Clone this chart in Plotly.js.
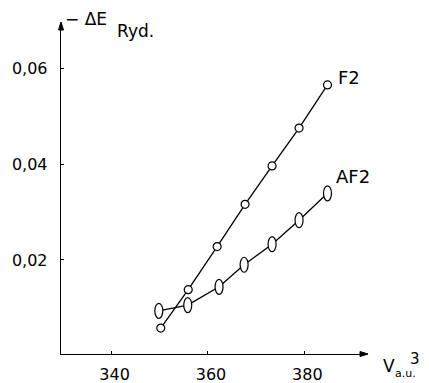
<!DOCTYPE html>
<html><head><meta charset="utf-8">
<script src="https://cdn.plot.ly/plotly-3.0.1.min.js"></script>
<style>html,body{margin:0;padding:0;background:#fff}</style>
</head><body><div id="chart" style="width:429px;height:383px"></div>
<script>
const f2X = [350.2, 355.9, 361.9, 367.7, 373.3, 378.9, 384.8];
const f2Y = [0.0058, 0.0138, 0.0228, 0.0316, 0.0396, 0.0475, 0.0565];
const af2X = [349.8, 355.8, 362.3, 367.5, 373.3, 378.9, 384.8];
const af2Y = [0.0094, 0.0106, 0.0144, 0.0190, 0.0233, 0.0283, 0.0339];
const xTicks = [340, 360, 380];
const xTickLabels = ['340', '360', '380'];
const yTicks = [0.02, 0.04, 0.06];
const yTickLabels = ['0,02', '0,04', '0,06'];
const seriesLabels = ['F2', 'AF2'];

const FONT = 'DejaVu Sans';
const traces = [
  {x: f2X, y: f2Y, mode: 'lines+markers', type: 'scatter',
   line: {color: '#000', width: 1.3},
   marker: {symbol: 'circle', size: 8, color: '#fff', line: {color: '#000', width: 1.2}}},
  {x: af2X, y: af2Y, mode: 'lines', type: 'scatter',
   line: {color: '#000', width: 1.3}}
];
const ovals = af2X.map((x, i) => ({
  type: 'circle', xref: 'x', yref: 'y', xsizemode: 'pixel', ysizemode: 'pixel',
  xanchor: x, yanchor: af2Y[i], x0: -4, x1: 4, y0: -7.5, y1: 7.5,
  fillcolor: '#fff', line: {color: '#000', width: 1.2}, layer: 'above'
}));
const arrowheads = [
  {type: 'path', xref: 'paper', yref: 'paper', xsizemode: 'pixel', ysizemode: 'pixel',
   xanchor: 1, yanchor: 0, path: 'M1,0 L-7,2.5 L-7,-2.5 Z',
   fillcolor: '#000', line: {color: '#000', width: 1}},
  {type: 'path', xref: 'paper', yref: 'paper', xsizemode: 'pixel', ysizemode: 'pixel',
   xanchor: 0, yanchor: 1, path: 'M0,1 L-2.5,-7 L2.5,-7 Z',
   fillcolor: '#000', line: {color: '#000', width: 1}}
];
const n = f2X.length - 1;
const layout = {
  width: 429, height: 383,
  margin: {l: 61, r: 62, t: 23, b: 29},
  paper_bgcolor: '#fff', plot_bgcolor: '#fff',
  showlegend: false,
  font: {family: FONT, color: '#000', size: 16},
  xaxis: {range: [329.5, 393], showgrid: false, zeroline: false,
    showline: true, linecolor: '#000', linewidth: 1.3,
    ticks: 'inside', ticklen: 3, tickcolor: '#000', tickwidth: 1,
    tickvals: xTicks, ticktext: xTickLabels, ticklabelstandoff: 5, ticklabelshift: 3,
    tickfont: {family: FONT, size: 16, color: '#000'}},
  yaxis: {range: [0.0004, 0.0694], showgrid: false, zeroline: false,
    showline: true, linecolor: '#000', linewidth: 1.3,
    ticks: 'inside', ticklen: 3, tickcolor: '#000', tickwidth: 1,
    tickvals: yTicks, ticktext: yTickLabels, ticklabelstandoff: 9,
    tickfont: {family: FONT, size: 16, color: '#000'}},
  shapes: ovals.concat(arrowheads),
  annotations: [
    {xref: 'x', yref: 'y', x: f2X[n], y: f2Y[n], text: seriesLabels[0], showarrow: false,
     xanchor: 'left', yanchor: 'middle', xshift: 9, yshift: 7, font: {size: 18}},
    {xref: 'x', yref: 'y', x: af2X[n], y: af2Y[n], text: seriesLabels[1], showarrow: false,
     xanchor: 'left', yanchor: 'middle', xshift: 7, yshift: 17, font: {size: 18}},
    {xref: 'paper', yref: 'paper', x: 0.082, y: 1.012, text: '− ΔE', showarrow: false,
     xanchor: 'center', yanchor: 'middle', font: {size: 17}},
    {xref: 'paper', yref: 'paper', x: 0.245, y: 0.976, text: 'Ryd.', showarrow: false,
     xanchor: 'center', yanchor: 'middle', font: {size: 17}},
    {xref: 'paper', yref: 'paper', x: 1.046, y: -0.036, text: 'V', showarrow: false,
     xanchor: 'left', yanchor: 'middle', font: {size: 17}},
    {xref: 'paper', yref: 'paper', x: 1.088, y: -0.06, text: 'a.u.', showarrow: false,
     xanchor: 'left', yanchor: 'middle', font: {size: 11}, borderpad: 0},
    {xref: 'paper', yref: 'paper', x: 1.137, y: -0.014, text: '3', showarrow: false,
     xanchor: 'left', yanchor: 'middle', font: {size: 15}, borderpad: 0}
  ]
};
Plotly.newPlot('chart', traces, layout, {displayModeBar: false, staticPlot: true});
</script></body></html>
